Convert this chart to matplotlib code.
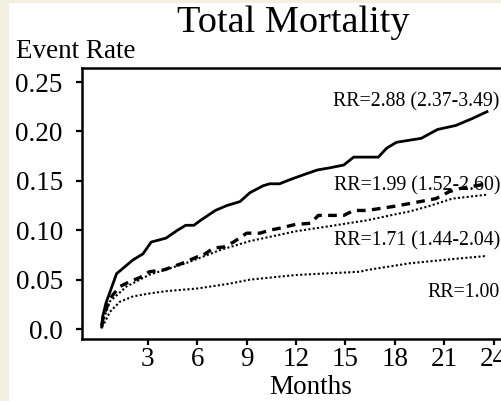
import matplotlib.pyplot as plt
import matplotlib.patches as mpatches

# Kaplan-Meier style cumulative event rates
months_a = [0.2, 0.25, 0.45, 1.1, 2.1, 2.7, 3.2, 4.1, 4.8, 5.3, 5.8, 6.2, 7.1, 7.8, 8.6,
            9.2, 10.0, 10.4, 11.0, 11.6, 12.6, 13.3, 14.0, 14.9, 15.5, 17.0, 17.5, 18.1,
            19.6, 20.6, 21.7, 22.7, 23.6]
rate_a = [0.002, 0.012, 0.026, 0.056, 0.070, 0.076, 0.088, 0.092, 0.100, 0.105, 0.105,
          0.110, 0.120, 0.125, 0.129, 0.138, 0.145, 0.147, 0.147, 0.151, 0.157, 0.161,
          0.163, 0.166, 0.174, 0.174, 0.183, 0.189, 0.193, 0.202, 0.206, 0.213, 0.220]

months_b = [0.2, 0.3, 0.7, 1.3, 1.9, 2.5, 3.1, 4.0, 5.0, 6.0, 6.2, 7.0, 7.6, 8.2, 9.0,
            9.8, 10.4, 11.0, 12.0, 12.9, 13.35, 14.9, 15.5, 16.3, 17.9, 18.9, 20.5,
            21.3, 21.9, 23.6]
rate_b = [0.003, 0.0125, 0.031, 0.043, 0.048, 0.052, 0.058, 0.060, 0.066, 0.073, 0.073,
          0.082, 0.083, 0.088, 0.097, 0.097, 0.100, 0.102, 0.106, 0.107, 0.115, 0.115,
          0.120, 0.120, 0.124, 0.127, 0.132, 0.139, 0.142, 0.147]

months_c = [0.2, 0.3, 0.7, 1.7, 3.1, 5.2, 6.0, 7.4, 9.2, 12.0, 14.0, 16.3, 18.0, 18.9,
            20.0, 21.5, 23.6]
rate_c = [0.002, 0.009, 0.028, 0.043, 0.055, 0.066, 0.071, 0.080, 0.089, 0.099, 0.104,
          0.110, 0.116, 0.119, 0.124, 0.132, 0.136]

months_d = [0.2, 0.3, 0.7, 1.3, 2.1, 3.1, 4.2, 6.0, 8.0, 9.2, 12.0, 15.9, 16.3, 18.9,
            21.0, 23.6]
rate_d = [0.002, 0.004, 0.0175, 0.0276, 0.033, 0.036, 0.0385, 0.041, 0.046, 0.050,
          0.0547, 0.058, 0.0597, 0.0665, 0.070, 0.074]

rr_labels = ['RR=2.88 (2.37-3.49)', 'RR=1.99 (1.52-2.60)', 'RR=1.71 (1.44-2.04)', 'RR=1.00']
x_ticks = [3, 6, 9, 12, 15, 18, 21, 24]
y_ticks = [0.0, 0.05, 0.10, 0.15, 0.20, 0.25]
y_tick_labels = ['0.0', '0.05', '0.10', '0.15', '0.20', '0.25']

plt.rcParams['font.family'] = ['Liberation Serif', 'DejaVu Serif']

fig = plt.figure(figsize=(5.02, 4.01), dpi=100, facecolor='#F3EFE1')
# white page area (beige margin on the left and top only)
fig.patches.append(mpatches.Rectangle((9 / 502, 0), 1, 1 - 3 / 401, transform=fig.transFigure,
                                      facecolor='white', edgecolor='none', zorder=-1))

ax = fig.add_axes([82 / 502, 1 - 339 / 401, (515 - 82) / 502, (339 - 68) / 401])
ax.set_zorder(2)
ax.set_facecolor('white')

ax.plot(months_a, rate_a, color='black', lw=2.0, solid_joinstyle='round')
ax.plot(months_b, rate_b, color='black', lw=2.4, dashes=(2.6, 1.9))
ax.plot(months_c, rate_c, color='black', lw=1.5, linestyle=(0, (1, 1.1)))
ax.plot(months_d, rate_d, color='black', lw=1.5, linestyle=(0, (1, 1.1)))

ax.set_xlim(-1, 25.3)
ax.set_ylim(-0.0101, 0.2642)

ax.set_xticks(x_ticks)
ax.set_xticklabels([str(t) for t in x_ticks])
ax.set_yticks(y_ticks)
ax.set_yticklabels(y_tick_labels)
ax.tick_params(axis='both', direction='out', length=4.3, width=1.6, labelsize=19.5)
ax.tick_params(axis='y', pad=9.5)
ax.tick_params(axis='x', pad=1.5)
for s in ax.spines.values():
    s.set_linewidth(1.8)

ax.text(14.24, 0.2257, rr_labels[0], fontsize=14.3, va='baseline')
ax.text(14.3, 0.1407, rr_labels[1], fontsize=14.3, va='baseline')
ax.text(14.3, 0.085, rr_labels[2], fontsize=14.3, va='baseline')
ax.text(20.0, 0.0324, rr_labels[3], fontsize=14.3, va='baseline')

fig.text(293 / 502, 1 - 32 / 401, 'Total Mortality', fontsize=27.5, ha='center', va='baseline')
fig.text(16 / 502, 1 - 58 / 401, 'Event Rate', fontsize=19.5, ha='left', va='baseline')
fig.text(311 / 502, 1 - 394 / 401, 'Months', fontsize=19.5, ha='center', va='baseline')

fig.savefig('out.png', dpi=100, facecolor=fig.get_facecolor())
